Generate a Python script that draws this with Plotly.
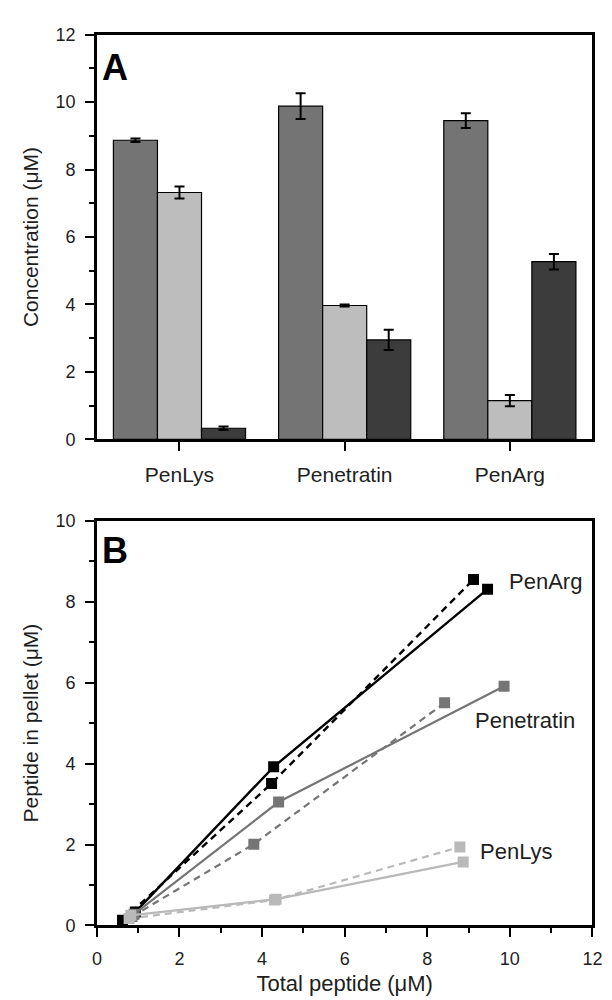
import plotly.graph_objects as go

# ---------------- Data ----------------
# Panel A (bar chart)
categories = ["PenLys", "Penetratin", "PenArg"]
total_vals = [8.87, 9.88, 9.45]
total_err = [0.05, 0.38, 0.22]
super_vals = [7.32, 3.97, 1.15]
super_err = [0.18, 0.03, 0.17]
pellet_vals = [0.33, 2.95, 5.27]
pellet_err = [0.05, 0.30, 0.23]

# Panel B (line chart)
penarg_solid_x = [0.93, 4.28, 9.46]
penarg_solid_y = [0.33, 3.92, 8.31]
penarg_dash_x = [0.62, 4.23, 9.12]
penarg_dash_y = [0.13, 3.51, 8.55]
penetratin_solid_x = [0.90, 4.40, 9.86]
penetratin_solid_y = [0.28, 3.05, 5.91]
penetratin_dash_x = [0.85, 3.80, 8.42]
penetratin_dash_y = [0.22, 2.01, 5.50]
penlys_solid_x = [0.82, 4.34, 8.87]
penlys_solid_y = [0.25, 0.65, 1.57]
penlys_dash_x = [0.78, 4.30, 8.79]
penlys_dash_y = [0.17, 0.63, 1.94]

y_ticks_a = [0, 2, 4, 6, 8, 10, 12]
x_ticks_b = [0, 2, 4, 6, 8, 10, 12]
y_ticks_b = [0, 2, 4, 6, 8, 10]

# ---------------- Styles ----------------
FONT = "Liberation Sans, Arial, Helvetica, sans-serif"
TXT = "#1e1e1e"
C_TOTAL = "#747474"
C_SUPER = "#bdbdbd"
C_PELLET = "#3c3c3c"
C_ARG = "#000000"
C_PEN = "#757575"
C_LYS = "#b9b9b9"

fig = go.Figure()

bar_common = dict(xaxis="x", yaxis="y", marker_line=dict(color="black", width=1.2), showlegend=False)
err_style = dict(type="data", color="black", thickness=2, width=5, visible=True)

fig.add_trace(go.Bar(x=categories, y=total_vals, name="Total", marker_color=C_TOTAL,
                     error_y=dict(array=total_err, **err_style), **bar_common))
fig.add_trace(go.Bar(x=categories, y=super_vals, name="Supernatant", marker_color=C_SUPER,
                     error_y=dict(array=super_err, **err_style), **bar_common))
fig.add_trace(go.Bar(x=categories, y=pellet_vals, name="Pellet", marker_color=C_PELLET,
                     error_y=dict(array=pellet_err, **err_style), **bar_common))

def add_line(xs, ys, color, dash, width):
    fig.add_trace(go.Scatter(
        x=xs, y=ys, mode="lines+markers", xaxis="x2", yaxis="y2", showlegend=False,
        line=dict(color=color, width=width, dash=dash),
        marker=dict(symbol="square", size=11, color=color, line=dict(width=0)),
    ))

add_line(penarg_dash_x, penarg_dash_y, C_ARG, "7px,5px", 2.4)
add_line(penarg_solid_x, penarg_solid_y, C_ARG, "solid", 2.4)
add_line(penetratin_dash_x, penetratin_dash_y, C_PEN, "7px,5px", 2.2)
add_line(penetratin_solid_x, penetratin_solid_y, C_PEN, "solid", 2.2)
add_line(penlys_dash_x, penlys_dash_y, C_LYS, "7px,5px", 2.2)
add_line(penlys_solid_x, penlys_solid_y, C_LYS, "solid", 2.2)

axis_common = dict(
    showline=True, linecolor="black", linewidth=2.5, mirror=True,
    showgrid=False, zeroline=False,
    ticks="outside", ticklen=9, tickwidth=2, tickcolor="black",
    tickfont=dict(family=FONT, size=18, color=TXT),
    ticklabelstandoff=6,
)
minor = dict(ticks="outside", ticklen=5, tickwidth=2, tickcolor="black", dtick=1, showgrid=False)

W, H = 612, 1000
xdom = [86 / W, 594 / W]

fig.update_layout(
    width=W, height=H,
    margin=dict(l=0, r=0, t=0, b=0),
    paper_bgcolor="white", plot_bgcolor="white",
    barmode="group", bargap=0.2, bargroupgap=0,
    font=dict(family=FONT, color=TXT),
    showlegend=False,
    xaxis=dict(domain=xdom, anchor="y", type="category",
               **{**axis_common, "tickfont": dict(family=FONT, size=21, color=TXT)}),
    yaxis=dict(domain=[1 - 430 / H, 1 - 17 / H], anchor="x", range=[0, 12],
               tickvals=y_ticks_a, minor=minor,
               title=dict(text="Concentration (μM)", font=dict(family=FONT, size=21, color=TXT), standoff=12),
               **axis_common),
    xaxis2=dict(domain=xdom, anchor="y2", range=[0, 12], tickvals=x_ticks_b, minor=minor,
                title=dict(text="Total peptide (μM)", font=dict(family=FONT, size=22, color=TXT), standoff=8),
                **axis_common),
    yaxis2=dict(domain=[1 - 926 / H, 1 - 513 / H], anchor="x2", range=[0, 10],
                tickvals=y_ticks_b, minor=minor,
                title=dict(text="Peptide in pellet (μM)", font=dict(family=FONT, size=21, color=TXT), standoff=12),
                **axis_common),
)

annotations = [
    dict(text="<b>A</b>", xref="paper", yref="paper", x=105 / W, y=1 - 50 / H,
         xanchor="center", yanchor="middle", showarrow=False,
         font=dict(family=FONT, size=36, color="black")),
    dict(text="<b>B</b>", xref="paper", yref="paper", x=105 / W, y=1 - 543 / H,
         xanchor="center", yanchor="middle", showarrow=False,
         font=dict(family=FONT, size=36, color="black")),
    dict(text="PenArg", xref="x2", yref="y2", x=9.93, y=8.5, xanchor="left", yanchor="middle",
         showarrow=False, font=dict(family=FONT, size=22, color=TXT)),
    dict(text="Penetratin", xref="x2", yref="y2", x=9.1, y=5.06, xanchor="left", yanchor="middle",
         showarrow=False, font=dict(family=FONT, size=22, color=TXT)),
    dict(text="PenLys", xref="x2", yref="y2", x=9.24, y=1.84, xanchor="left", yanchor="middle",
         showarrow=False, font=dict(family=FONT, size=22, color=TXT)),
]
fig.update_layout(annotations=annotations)

fig.write_html("out.html")
